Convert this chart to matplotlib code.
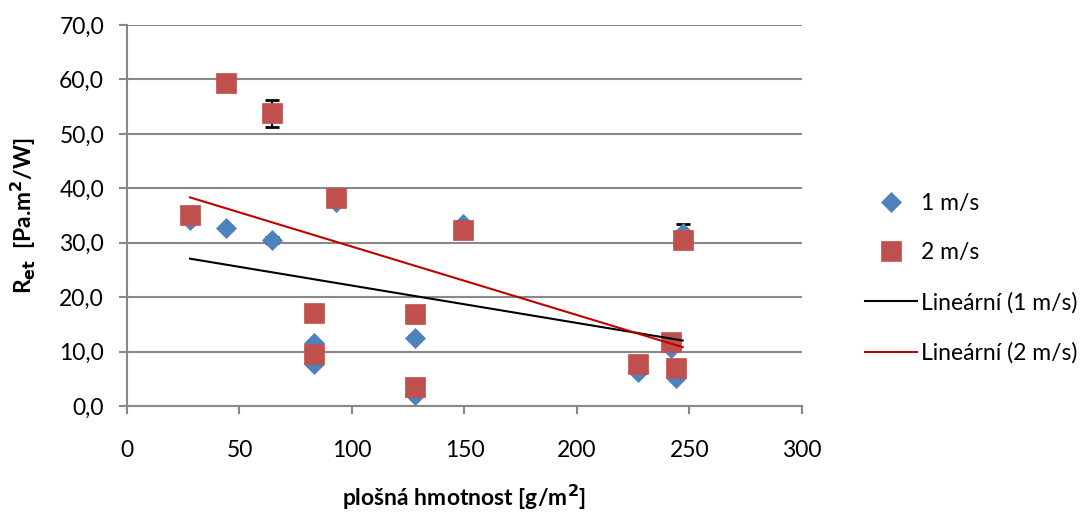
from matplotlib import pyplot as plt
import numpy as np

plt.rcParams['font.family'] = ['Lato', 'DejaVu Sans']

# plošná hmotnost [g/m2]
gsm = [28, 44, 64.4, 93, 83, 83, 128, 128, 149.3, 227, 242, 244, 247]

# Ret pro rychlost vzduchu 1 m/s a 2 m/s
ret_1 = [34.2, 32.7, 30.5, 37.4, 11.6, 7.7, 12.5, 2.0, 33.5, 6.3, 10.6, 5.2, 31.8]
ret_2 = [35.1, 59.3, 53.8, 38.2, 17.1, 9.6, 16.9, 3.5, 32.3, 7.7, 11.8, 7.0, 30.5]

# směrodatné odchylky
err_1 = [0.4, 0.4, 0.5, 0.6, 0.4, 0.3, 0.4, 0.2, 0.5, 0.3, 0.4, 0.3, 1.6]
err_2 = [0.5, 0.6, 2.5, 0.7, 0.5, 0.4, 0.5, 0.2, 0.6, 0.4, 0.5, 0.4, 0.8]

blue = "#4F81BD"
red = "#C0504D"
grid = "#888888"

fig = plt.figure(figsize=(10.91, 5.14), dpi=100)
ax = fig.add_axes([0.1164, 0.2101, 0.735 - 0.1164, 0.9514 - 0.2101])

ax.errorbar(gsm, ret_1, yerr=err_1, fmt="none", ecolor="black", elinewidth=1.5,
            capsize=5, capthick=2, zorder=2)
ax.errorbar(gsm, ret_2, yerr=err_2, fmt="none", ecolor="black", elinewidth=1.5,
            capsize=5, capthick=2, zorder=2)

ax.plot(gsm, ret_1, "D", color=blue, ms=10.2, mec=blue, mew=0.5, zorder=3, label="1 m/s")
ax.plot(gsm, ret_2, "s", color=red, ms=14.4, mec=red, mew=0.5, zorder=4, label="2 m/s")

# lineární trendy
x = np.array([min(gsm), max(gsm)])
fit_1 = np.poly1d(np.polyfit(gsm, ret_1, 1))
fit_2 = np.poly1d(np.polyfit(gsm, ret_2, 1))
ax.plot(x, fit_1(x), color="black", lw=1.5, zorder=5, label="Lineární (1 m/s)")
ax.plot(x, fit_2(x), color="#C00000", lw=1.5, zorder=5, label="Lineární (2 m/s)")

ax.set_xlim(0, 300)
ax.set_ylim(0, 70)
ax.set_xticks(np.arange(0, 301, 50))
ax.set_yticks(np.arange(0, 71, 10))
ax.set_yticklabels([f"{v:.1f}".replace(".", ",") for v in np.arange(0, 71, 10)])

ax.grid(axis="y", color=grid, lw=1.5)
ax.set_axisbelow(True)
for s in ["top", "right"]:
    ax.spines[s].set_visible(False)
for s in ["left", "bottom"]:
    ax.spines[s].set_color(grid)
    ax.spines[s].set_linewidth(1.5)
ax.tick_params(colors=grid, width=1.5, length=5.5, labelcolor="black", labelsize=16.5)
ax.tick_params(axis="x", pad=19)
ax.tick_params(axis="y", pad=11)

ax.set_xlabel("plošná hmotnost [g/m$^\\mathbf{2}$]", fontsize=16.5, fontweight="bold", labelpad=16)
ax.set_ylabel("R$_\\mathbf{et}$  [Pa.m$^\\mathbf{2}$/W]", fontsize=16.5, fontweight="bold", labelpad=15)

fig.legend(loc="center left", bbox_to_anchor=(0.782, 0.459), frameon=False, fontsize=16.5,
           handlelength=2.3, labelspacing=1.25, handletextpad=0.15, borderpad=0)

plt.savefig("out.png", dpi=100)
